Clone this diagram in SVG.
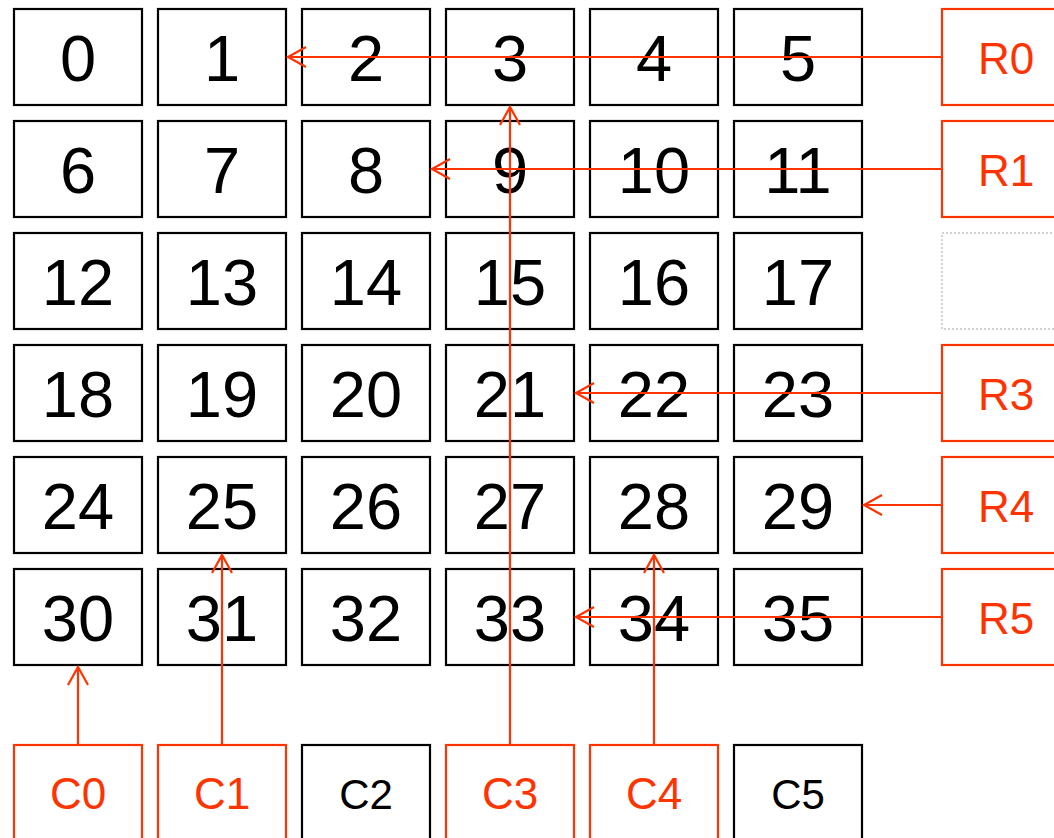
<svg xmlns="http://www.w3.org/2000/svg" width="1054" height="838" viewBox="0 0 1054 838">
<defs>
<style>
.c rect{fill:#fff;stroke:#000;stroke-width:2.2}
.c text{font-family:"Liberation Sans",Arial,sans-serif;font-size:65px;fill:#000;text-anchor:middle}
.o rect{fill:#fff;stroke:#FF3300;stroke-width:2.2}
.o text{font-family:"Liberation Sans",Arial,sans-serif;font-size:44px;fill:#FF3300;text-anchor:middle}
.k rect{fill:#fff;stroke:#000;stroke-width:2.2}
.k text{font-family:"Liberation Sans",Arial,sans-serif;font-size:42px;fill:#000;text-anchor:middle}
.e rect{fill:#fff;stroke:#C4C4C4;stroke-width:1.5;stroke-dasharray:2 2}
#connectors line{stroke:#FF3300;stroke-width:2.2;fill:none}
#connectors path{stroke:#FF3300;stroke-width:2.2;fill:none}
</style>
</defs>
<rect width="1054" height="838" fill="#fff"/>
<g id="cell0" class="c"><rect x="14" y="9" width="128" height="96"/><text x="78" y="81">0</text></g>
<g id="cell1" class="c"><rect x="158" y="9" width="128" height="96"/><text x="222" y="81">1</text></g>
<g id="cell2" class="c"><rect x="302" y="9" width="128" height="96"/><text x="366" y="81">2</text></g>
<g id="cell3" class="c"><rect x="446" y="9" width="128" height="96"/><text x="510" y="81">3</text></g>
<g id="cell4" class="c"><rect x="590" y="9" width="128" height="96"/><text x="654" y="81">4</text></g>
<g id="cell5" class="c"><rect x="734" y="9" width="128" height="96"/><text x="798" y="81">5</text></g>
<g id="cell6" class="c"><rect x="14" y="121" width="128" height="96"/><text x="78" y="193">6</text></g>
<g id="cell7" class="c"><rect x="158" y="121" width="128" height="96"/><text x="222" y="193">7</text></g>
<g id="cell8" class="c"><rect x="302" y="121" width="128" height="96"/><text x="366" y="193">8</text></g>
<g id="cell9" class="c"><rect x="446" y="121" width="128" height="96"/><text x="510" y="193">9</text></g>
<g id="cell10" class="c"><rect x="590" y="121" width="128" height="96"/><text x="654" y="193">10</text></g>
<g id="cell11" class="c"><rect x="734" y="121" width="128" height="96"/><text x="798" y="193">11</text></g>
<g id="cell12" class="c"><rect x="14" y="233" width="128" height="96"/><text x="78" y="305">12</text></g>
<g id="cell13" class="c"><rect x="158" y="233" width="128" height="96"/><text x="222" y="305">13</text></g>
<g id="cell14" class="c"><rect x="302" y="233" width="128" height="96"/><text x="366" y="305">14</text></g>
<g id="cell15" class="c"><rect x="446" y="233" width="128" height="96"/><text x="510" y="305">15</text></g>
<g id="cell16" class="c"><rect x="590" y="233" width="128" height="96"/><text x="654" y="305">16</text></g>
<g id="cell17" class="c"><rect x="734" y="233" width="128" height="96"/><text x="798" y="305">17</text></g>
<g id="cell18" class="c"><rect x="14" y="345" width="128" height="96"/><text x="78" y="417">18</text></g>
<g id="cell19" class="c"><rect x="158" y="345" width="128" height="96"/><text x="222" y="417">19</text></g>
<g id="cell20" class="c"><rect x="302" y="345" width="128" height="96"/><text x="366" y="417">20</text></g>
<g id="cell21" class="c"><rect x="446" y="345" width="128" height="96"/><text x="510" y="417">21</text></g>
<g id="cell22" class="c"><rect x="590" y="345" width="128" height="96"/><text x="654" y="417">22</text></g>
<g id="cell23" class="c"><rect x="734" y="345" width="128" height="96"/><text x="798" y="417">23</text></g>
<g id="cell24" class="c"><rect x="14" y="457" width="128" height="96"/><text x="78" y="529">24</text></g>
<g id="cell25" class="c"><rect x="158" y="457" width="128" height="96"/><text x="222" y="529">25</text></g>
<g id="cell26" class="c"><rect x="302" y="457" width="128" height="96"/><text x="366" y="529">26</text></g>
<g id="cell27" class="c"><rect x="446" y="457" width="128" height="96"/><text x="510" y="529">27</text></g>
<g id="cell28" class="c"><rect x="590" y="457" width="128" height="96"/><text x="654" y="529">28</text></g>
<g id="cell29" class="c"><rect x="734" y="457" width="128" height="96"/><text x="798" y="529">29</text></g>
<g id="cell30" class="c"><rect x="14" y="569" width="128" height="96"/><text x="78" y="641">30</text></g>
<g id="cell31" class="c"><rect x="158" y="569" width="128" height="96"/><text x="222" y="641">31</text></g>
<g id="cell32" class="c"><rect x="302" y="569" width="128" height="96"/><text x="366" y="641">32</text></g>
<g id="cell33" class="c"><rect x="446" y="569" width="128" height="96"/><text x="510" y="641">33</text></g>
<g id="cell34" class="c"><rect x="590" y="569" width="128" height="96"/><text x="654" y="641">34</text></g>
<g id="cell35" class="c"><rect x="734" y="569" width="128" height="96"/><text x="798" y="641">35</text></g>
<g id="R0" class="o"><rect x="942" y="9" width="128" height="96"/><text x="1006" y="74">R0</text></g>
<g id="R1" class="o"><rect x="942" y="121" width="128" height="96"/><text x="1006" y="186">R1</text></g>
<g id="R2" class="e"><rect x="942" y="233" width="128" height="96"/></g>
<g id="R3" class="o"><rect x="942" y="345" width="128" height="96"/><text x="1006" y="410">R3</text></g>
<g id="R4" class="o"><rect x="942" y="457" width="128" height="96"/><text x="1006" y="522">R4</text></g>
<g id="R5" class="o"><rect x="942" y="569" width="128" height="96"/><text x="1006" y="634">R5</text></g>
<g id="C0" class="o"><rect x="14" y="745" width="128" height="96"/><text x="78" y="809">C0</text></g>
<g id="C1" class="o"><rect x="158" y="745" width="128" height="96"/><text x="222" y="809">C1</text></g>
<g id="C2" class="k"><rect x="302" y="745" width="128" height="96"/><text x="366" y="809">C2</text></g>
<g id="C3" class="o"><rect x="446" y="745" width="128" height="96"/><text x="510" y="809">C3</text></g>
<g id="C4" class="o"><rect x="590" y="745" width="128" height="96"/><text x="654" y="809">C4</text></g>
<g id="C5" class="k"><rect x="734" y="745" width="128" height="96"/><text x="798" y="809">C5</text></g>
<g id="connectors">
<line x1="942" y1="57" x2="288" y2="57"/><path d="M306,47 L288,57 L306,67"/>
<line x1="942" y1="169" x2="432" y2="169"/><path d="M450,159 L432,169 L450,179"/>
<line x1="942" y1="393" x2="576" y2="393"/><path d="M594,383 L576,393 L594,403"/>
<line x1="942" y1="505" x2="864" y2="505"/><path d="M882,495 L864,505 L882,515"/>
<line x1="942" y1="617" x2="576" y2="617"/><path d="M594,607 L576,617 L594,627"/>
<line x1="78" y1="745" x2="78" y2="667"/><path d="M68,685 L78,667 L88,685"/>
<line x1="222" y1="745" x2="222" y2="555"/><path d="M212,573 L222,555 L232,573"/>
<line x1="510" y1="745" x2="510" y2="107"/><path d="M500,125 L510,107 L520,125"/>
<line x1="654" y1="745" x2="654" y2="555"/><path d="M644,573 L654,555 L664,573"/>
</g>
</svg>
